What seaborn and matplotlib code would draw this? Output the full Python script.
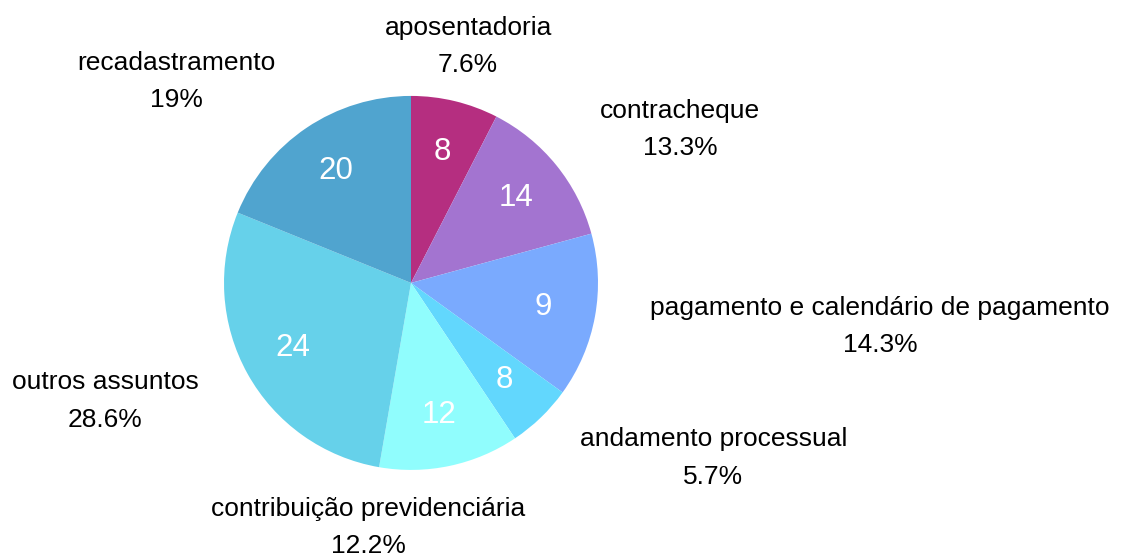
import numpy as np
import seaborn as sns
import matplotlib
matplotlib.use("Agg")
import matplotlib.pyplot as plt

# data
categories = ["aposentadoria", "contracheque", "pagamento e calendário de pagamento",
              "andamento processual", "contribuição previdenciária",
              "outros assuntos", "recadastramento"]
shares = [7.6, 13.3, 14.3, 5.7, 12.2, 28.6, 19.0]
share_labels = ["7.6%", "13.3%", "14.3%", "5.7%", "12.2%", "28.6%", "19%"]
counts = [8, 14, 9, 8, 12, 24, 20]
colors = ["#b52e80", "#a374d0", "#7aaafe", "#62d7fd", "#90fdfd", "#66d1ea", "#50a4cf"]

sns.set_theme(style="white")
plt.rcParams["font.family"] = ["Liberation Sans", "DejaVu Sans"]

fig = plt.figure(figsize=(11.21, 5.58), dpi=100)
ax = fig.add_axes([0, 0, 1, 1])

it = iter(counts)
wedges, _, inner = ax.pie(shares, colors=colors, startangle=90, counterclock=False,
                          autopct=lambda p: str(next(it)), pctdistance=0.72,
                          wedgeprops=dict(linewidth=0),
                          textprops=dict(color="white", fontsize=22.5))

# outer labels, placed from each wedge's mid angle
for w, name, pct in zip(wedges, categories, share_labels):
    ang = np.deg2rad((w.theta1 + w.theta2) / 2)
    x, y = 1.3 * np.cos(ang), 1.3 * np.sin(ang)
    if y < -1.0:
        # bottom label, pushed left and up so it stays on the page
        ha, va = "center", "top"
        x, y = x - 0.5, y * 0.9
    elif abs(x) < 0.5:
        ha, va = "center", "center"
    else:
        ha, va = ("left" if x > 0 else "right"), "center"
    ax.text(x, y, f"{name}\n{pct}", ha=ha, va=va, fontsize=19,
            color="black", multialignment="center", linespacing=1.7)

ax.set_xlim(-2.198, 3.797)
ax.set_ylim(-1.471, 1.513)
ax.set_aspect("auto")
ax.axis("off")

fig.savefig("out.png", dpi=100, facecolor="white")
